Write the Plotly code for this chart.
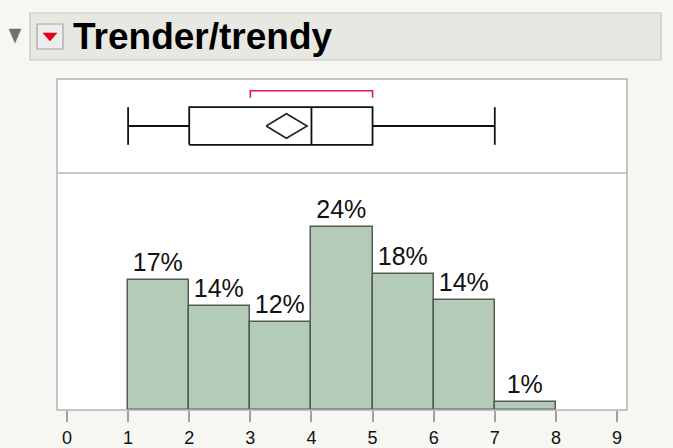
import plotly.graph_objects as go

# ---- data ----
bin_left = [1, 2, 3, 4, 5, 6, 7]
pct = [17.0, 13.6, 11.6, 24.0, 17.9, 14.4, 1.05]
pct_labels = ["17%", "14%", "12%", "24%", "18%", "14%", "1%"]
tick_vals = [0, 1, 2, 3, 4, 5, 6, 7, 8, 9]
tick_text = ["0", "1", "2", "3", "4", "5", "6", "7", "8", "9"]

q_min, q1, median, q3, q_max = 1, 2, 4, 5, 7
mean, ci_low, ci_high = 3.59, 3.26, 3.93
shortest_half = [3, 5]
title_text = "Trender/trendy"

BAR_FILL = "#b5cbb9"
BAR_LINE = "#555b55"
FRAME = "#b4b4b4"
PAGE_BG = "#f6f6f2"
FONT = "Liberation Sans, Arial, Helvetica"

fig = go.Figure()

fig.add_trace(go.Bar(
    x=bin_left, y=pct, width=1, offset=0,
    marker=dict(color=BAR_FILL, line=dict(color=BAR_LINE, width=1.5)),
    text=pct_labels, textposition="outside", cliponaxis=False,
    textfont=dict(family=FONT, size=25, color="#111111"),
    xaxis="x", yaxis="y", showlegend=False, hoverinfo="skip",
))

# box plot panel (y2, range 0..1)
BL = dict(color="#111111", width=1.8)
fig.add_trace(go.Scatter(x=[q_min, q1, None, q3, q_max], y=[0.5, 0.5, None, 0.5, 0.5],
                         mode="lines", line=BL, yaxis="y2", showlegend=False, hoverinfo="skip"))
fig.add_trace(go.Scatter(x=[q_min, q_min, None, q_max, q_max], y=[0.3, 0.7, None, 0.3, 0.7],
                         mode="lines", line=BL, yaxis="y2", showlegend=False, hoverinfo="skip"))
fig.add_trace(go.Scatter(x=[q1, q3, q3, q1, q1], y=[0.3, 0.3, 0.7, 0.7, 0.3],
                         mode="lines", line=BL, yaxis="y2", showlegend=False, hoverinfo="skip"))
fig.add_trace(go.Scatter(x=[median, median], y=[0.3, 0.7],
                         mode="lines", line=BL, yaxis="y2", showlegend=False, hoverinfo="skip"))
fig.add_trace(go.Scatter(x=[ci_low, mean, ci_high, mean, ci_low], y=[0.5, 0.63, 0.5, 0.37, 0.5],
                         mode="lines", line=dict(color="#222222", width=1.6), yaxis="y2",
                         showlegend=False, hoverinfo="skip"))
fig.add_trace(go.Scatter(x=[shortest_half[0], shortest_half[0], shortest_half[1], shortest_half[1]],
                         y=[0.8, 0.875, 0.875, 0.8], mode="lines",
                         line=dict(color="#e8174a", width=1.6), yaxis="y2",
                         showlegend=False, hoverinfo="skip"))

SPLIT = 0.716
shapes = [
    dict(type="rect", xref="paper", yref="paper", x0=-0.0474, x1=1.0596, y0=1.0574, y1=1.1994,
         fillcolor="#e8e8e3", line=dict(color="#c6c6c2", width=1.2), layer="below"),
    dict(type="rect", xref="paper", yref="paper", x0=-0.0351, x1=0.0105, y0=1.0906, y1=1.1662,
         fillcolor="#ededed", line=dict(color="#a5a5a5", width=1.2)),
    dict(type="path", xref="paper", yref="paper",
         path="M -0.0246,1.1390 L 0.0000,1.1390 L -0.0123,1.1148 Z",
         fillcolor="#e0001b", line=dict(color="#e0001b", width=0.5)),
    dict(type="path", xref="paper", yref="paper",
         path="M -0.0842,1.1511 L -0.0632,1.1511 L -0.0737,1.1088 Z",
         fillcolor="#707070", line=dict(color="#707070", width=0.5)),
    dict(type="rect", xref="paper", yref="paper", x0=0, x1=1, y0=0, y1=1,
         line=dict(color=FRAME, width=1.5)),
    dict(type="line", xref="paper", yref="paper", x0=0, x1=1, y0=SPLIT, y1=SPLIT,
         line=dict(color=FRAME, width=1.5)),
]

fig.update_layout(
    width=673, height=448,
    margin=dict(l=57, r=46, t=79, b=38, autoexpand=False),
    paper_bgcolor=PAGE_BG, plot_bgcolor="white",
    bargap=0,
    shapes=shapes,
    xaxis=dict(range=[-0.1636, 9.1636], tickmode="array", tickvals=tick_vals, ticktext=tick_text,
               ticks="outside", ticklen=11, tickwidth=1.5, tickcolor="#a0a0a0",
               showgrid=False, zeroline=False, showline=False, anchor="y", automargin=False,
               tickfont=dict(family=FONT, size=18, color="#111111")),
    yaxis=dict(domain=[0, SPLIT], range=[0, 31.08], visible=False, showgrid=False,
               zeroline=False, automargin=False),
    yaxis2=dict(domain=[SPLIT, 1], range=[0, 1], visible=False, showgrid=False,
                zeroline=False, automargin=False),
    annotations=[dict(text="<b>" + title_text + "</b>", xref="paper", yref="paper",
                      x=0.024, y=1.128, xanchor="left", yanchor="middle", showarrow=False,
                      font=dict(family=FONT, size=37, color="#000000"))],
)

fig.write_html("out.html", config={"displayModeBar": False},
               post_script="document.body.style.margin='0';document.body.style.background='#f6f6f2';")
